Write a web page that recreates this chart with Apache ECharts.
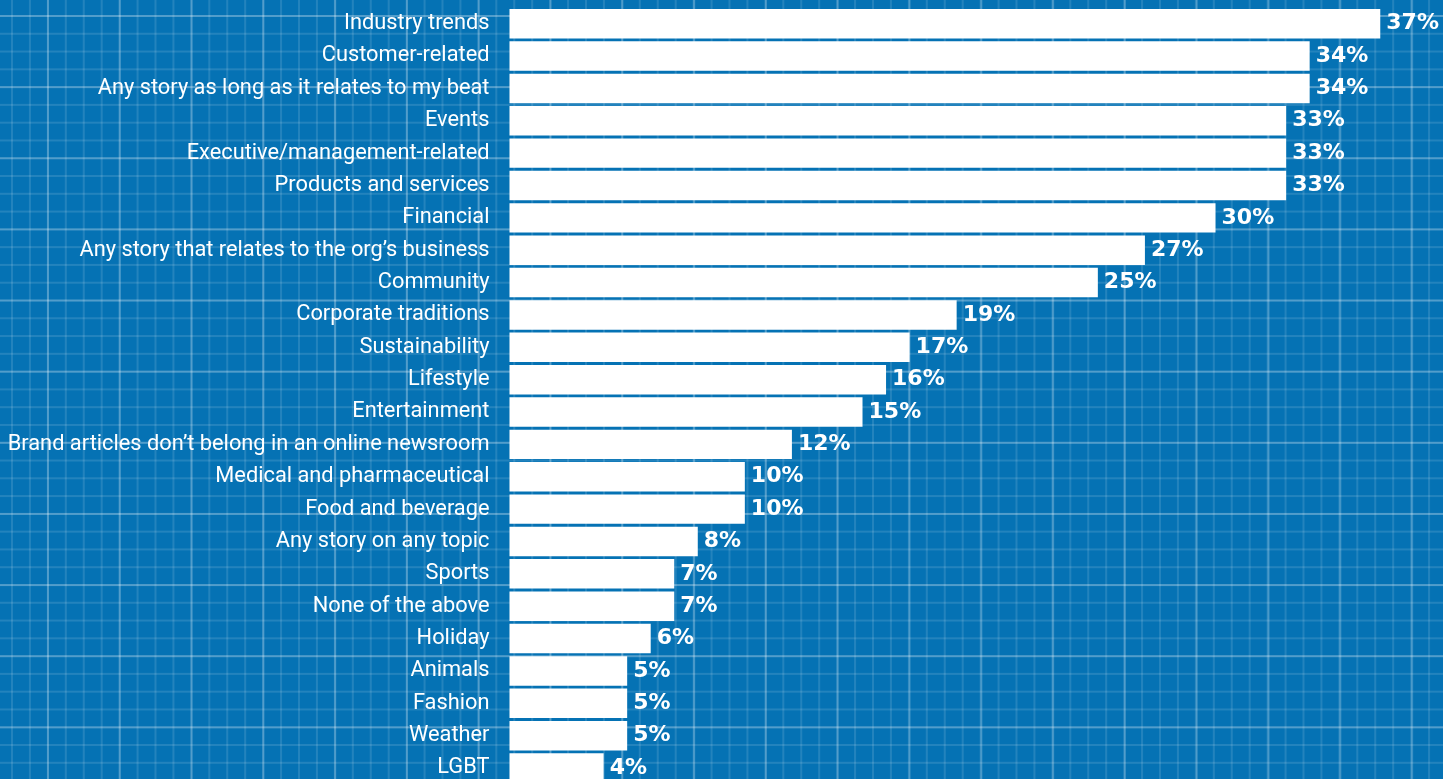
<!DOCTYPE html>
<html>
<head>
<meta charset="utf-8">
<script src="https://cdn.jsdelivr.net/npm/echarts@6/dist/echarts.min.js"></script>
<style>
  html, body { margin: 0; padding: 0; }
  #chart {
    width: 1443px; height: 779px;
    background-color: #0572b4;
    background-image:
      linear-gradient(to right, rgba(255,255,255,0.21) 1.5px, transparent 1.5px),
      linear-gradient(to bottom, rgba(255,255,255,0.21) 1.5px, transparent 1.5px),
      linear-gradient(to right, rgba(255,255,255,0.12) 1.5px, transparent 1.5px),
      linear-gradient(to bottom, rgba(255,255,255,0.12) 1.5px, transparent 1.5px);
    background-size: 71.8px 100%, 100% 71.15px, 17.95px 100%, 100% 17.79px;
    background-position: 47px 0, 0 15px, 11px 0, 0 15px;
  }
</style>
</head>
<body>
<div id="chart"></div>
<script>
const categories = [
  "Industry trends",
  "Customer-related",
  "Any story as long as it relates to my beat",
  "Events",
  "Executive/management-related",
  "Products and services",
  "Financial",
  "Any story that relates to the org\u2019s business",
  "Community",
  "Corporate traditions",
  "Sustainability",
  "Lifestyle",
  "Entertainment",
  "Brand articles don\u2019t belong in an online newsroom",
  "Medical and pharmaceutical",
  "Food and beverage",
  "Any story on any topic",
  "Sports",
  "None of the above",
  "Holiday",
  "Animals",
  "Fashion",
  "Weather",
  "LGBT"
];
const values = [37, 34, 34, 33, 33, 33, 30, 27, 25, 19, 17, 16, 15, 12, 10, 10, 8, 7, 7, 6, 5, 5, 5, 4];

const chart = echarts.init(document.getElementById('chart'), null, { renderer: 'canvas' });
chart.setOption({
  backgroundColor: 'transparent',
  animation: false,
  grid: { left: 509.5, width: 894.3, top: 7.5, height: 776.7, containLabel: false, outerBoundsMode: 'none' },
  xAxis: {
    type: 'value', min: 0, max: 38,
    show: false
  },
  yAxis: {
    type: 'category',
    data: categories,
    inverse: true,
    axisLine: { show: false },
    axisTick: { show: false },
    splitLine: { show: false },
    axisLabel: {
      color: '#ffffff',
      fontFamily: 'Roboto',
      fontSize: 21.8,
      margin: 20,
      padding: [0, 0, 5, 0]
    }
  },
  series: [{
    type: 'bar',
    data: values,
    barCategoryGap: '9%',
    itemStyle: { color: '#ffffff' },
    label: {
      show: true,
      position: 'right',
      distance: 6,
      formatter: '{c}%',
      color: '#ffffff',
      fontFamily: 'DejaVu Sans',
      fontWeight: 'bold',
      fontSize: 22,
      padding: [3, 0, 0, 0]
    }
  }]
});
</script>
</body>
</html>
